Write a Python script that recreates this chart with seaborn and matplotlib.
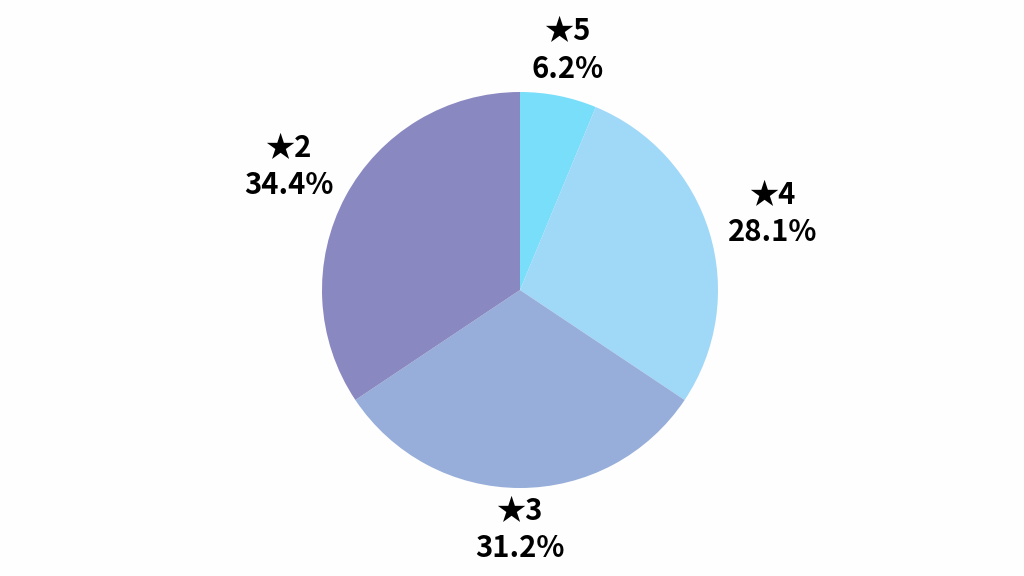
import numpy as np
import seaborn as sns
import matplotlib.pyplot as plt

# rating distribution (counts out of 32)
labels = ['★5', '★4', '★3', '★2']
counts = [2, 9, 10, 11]
colors = ['#78DEF9', '#A0D8F8', '#96AED9', '#8A88C0']

sns.set_theme(style='white')
plt.rcParams['font.family'] = ['Noto Sans CJK JP', 'DejaVu Sans']

fig = plt.figure(figsize=(10.24, 5.76), dpi=100)
fig.patch.set_facecolor('#FEFEFE')
ax = fig.add_axes([0, 0, 1, 1])
ax.set_facecolor('#FEFEFE')

wedges, _ = ax.pie(counts, colors=sns.color_palette(colors), startangle=90,
                   counterclock=False, radius=1,
                   wedgeprops=dict(linewidth=0))

total = sum(counts)
for w, lab, c in zip(wedges, labels, counts):
    mid = np.deg2rad((w.theta1 + w.theta2) / 2)
    r = 1.21 + 0.13 * abs(np.cos(mid))
    ax.text(r * np.cos(mid), r * np.sin(mid), f'{lab}\n{100 * c / total:.1f}%',
            ha='center', va='center', fontsize=21, fontweight='bold',
            color='#000000', linespacing=1.3)

ax.set_xlim(-520 / 198, 504 / 198)
ax.set_ylim(-286 / 198, 290 / 198)
ax.set_aspect('equal')
ax.axis('off')

fig.savefig('out.png', dpi=100, facecolor=fig.get_facecolor())
